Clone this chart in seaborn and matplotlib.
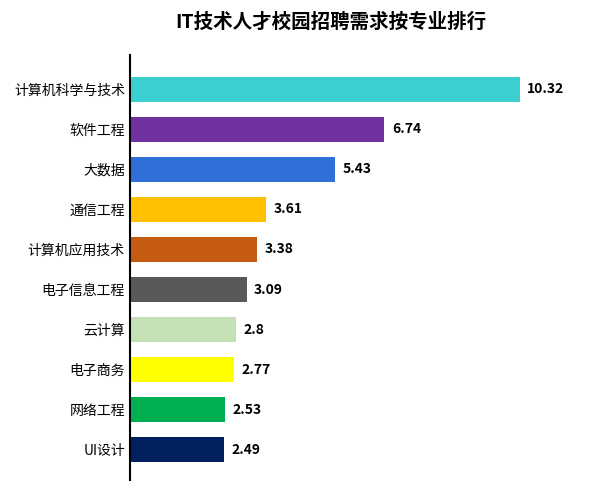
import matplotlib.pyplot as plt
import seaborn as sns
import pandas as pd

plt.rcParams["font.family"] = ["Noto Sans CJK JP", "Noto Sans CJK SC", "DejaVu Sans"]

majors = ["计算机科学与技术", "软件工程", "大数据", "通信工程", "计算机应用技术",
          "电子信息工程", "云计算", "电子商务", "网络工程", "UI设计"]
values = [10.32, 6.74, 5.43, 3.61, 3.38, 3.09, 2.8, 2.77, 2.53, 2.49]
colors = ["#3CCFCF", "#7030A0", "#2E6FD8", "#FFC000", "#C55A11",
          "#595959", "#C5E0B4", "#FFFF00", "#00B050", "#002060"]

df = pd.DataFrame({"major": majors, "value": values})

fig = plt.figure(figsize=(6.01, 5.0), dpi=100)
ax = fig.add_axes([0.216, 0.04, 0.754, 0.85])
sns.barplot(data=df, x="value", y="major", hue="major", palette=colors,
            legend=False, width=0.62, saturation=1, ax=ax)

for i, v in enumerate(values):
    ax.text(v + 0.2, i, f"{v:g}", va="center", ha="left", fontsize=10, fontweight="bold")

ax.set_xlim(0, 12)
ax.set_ylim(9.75, -0.85)
ax.set_xlabel("")
ax.set_ylabel("")
ax.set_xticks([])
for s in ["top", "right", "bottom"]:
    ax.spines[s].set_visible(False)
ax.spines["left"].set_linewidth(1.5)
ax.tick_params(axis="y", length=0, labelsize=10)
fig.suptitle("IT技术人才校园招聘需求按专业排行", x=0.55, y=0.975, fontsize=14, fontweight="bold")

fig.savefig("out.png", dpi=100)
